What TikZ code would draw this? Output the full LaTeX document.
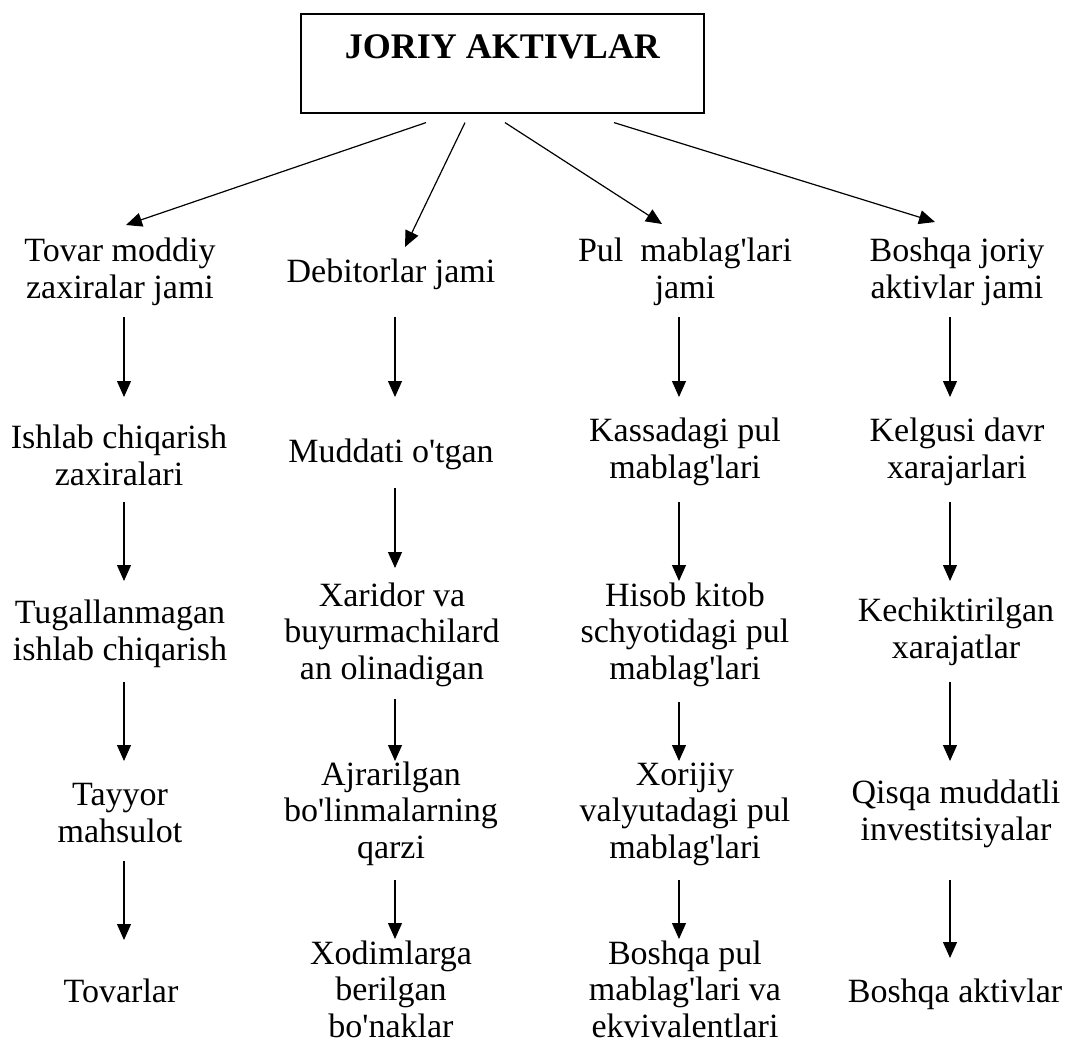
\documentclass[tikz,border=0pt]{standalone}
\usepackage{fontspec}
\setmainfont{Liberation Serif}[Ligatures=TeXOff]
\usetikzlibrary{arrows.meta,calc}
\tikzset{
  lbl/.style={inner sep=0pt, align=center, anchor=base, font=\fontsize{34}{36.5}\selectfont},
  rootbox/.style={draw, line width=1.2pt, inner sep=0pt, anchor=base, minimum width=403pt,
    text height=45pt, text depth=54pt, font=\fontsize{36}{40}\selectfont\bfseries},
  arr/.style={line width=1.2pt, -{Triangle[length=16pt,width=14pt]}}
}
\begin{document}
\begin{tikzpicture}[x=1pt,y=1pt]
\useasboundingbox (0,0) rectangle (1090,-1041);
\node[rootbox] (root) at (502.5,-59) {JORIY AKTIVLAR};
% column axes
\coordinate (c1) at (124,0);
\coordinate (c2) at (395,0);
\coordinate (c3) at (679,0);
\coordinate (c4) at (950,0);
% nodes are placed by the baseline of their last line
% column 1
\node[lbl] (t11) at (120,-298) {Tovar moddiy\\zaxiralar jami};
\node[lbl] (t12) at (119,-485) {Ishlab chiqarish\\zaxiralari};
\node[lbl] (t13) at (120,-660) {Tugallanmagan\\ishlab chiqarish};
\node[lbl] (t14) at (120,-842) {Tayyor\\mahsulot};
\node[lbl] (t15) at (121,-1002) {Tovarlar};
% column 2
\node[lbl] (t21) at (391,-282) {Debitorlar jami};
\node[lbl] (t22) at (391,-462) {Muddati o'tgan};
\node[lbl] (t23) at (392,-679) {Xaridor va\\buyurmachilard\\an olinadigan};
\node[lbl] (t24) at (391,-858) {Ajrarilgan\\bo'linmalarning\\qarzi};
\node[lbl] (t25) at (391,-1037) {Xodimlarga\\berilgan\\bo'naklar};
% column 3
\node[lbl] (t31) at (685,-298) {Pul\ \ mablag'lari\\jami};
\node[lbl] (t32) at (685,-478) {Kassadagi pul\\mablag'lari};
\node[lbl] (t33) at (685,-679) {Hisob kitob\\schyotidagi pul\\mablag'lari};
\node[lbl] (t34) at (685,-858) {Xorijiy\\valyutadagi pul\\mablag'lari};
\node[lbl] (t35) at (685,-1037) {Boshqa pul\\mablag'lari va\\ekvivalentlari};
% column 4
\node[lbl] (t41) at (957,-298) {Boshqa joriy\\aktivlar jami};
\node[lbl] (t42) at (957,-478) {Kelgusi davr\\xarajarlari};
\node[lbl] (t43) at (956,-658) {Kechiktirilgan\\xarajatlar};
\node[lbl] (t44) at (956,-840) {Qisqa muddatli\\investitsiyalar};
\node[lbl] (t45) at (955,-1002) {Boshqa aktivlar};
% top arrows
\draw[arr] ($(root.south)+(-76.5,-9)$) -- ($(t11.base)+(6,73)$);
\draw[arr] ($(root.south)+(-37.5,-9)$) -- ($(t21.base)+(14,35)$);
\draw[arr] ($(root.south)+(2.5,-9)$) -- ($(t31.base)+(-23,74)$);
\draw[arr] ($(root.south)+(111.5,-9)$) -- ($(t41.base)+(-22,76)$);
% column 1 arrows
\draw[arr] ($(t11.base -| c1)+(0,-19)$) -- ($(t12.base -| c1)+(0,88)$);
\draw[arr] ($(t12.base -| c1)+(0,-17)$) -- ($(t13.base -| c1)+(0,79)$);
\draw[arr] ($(t13.base -| c1)+(0,-22)$) -- ($(t14.base -| c1)+(0,81)$);
\draw[arr] ($(t14.base -| c1)+(0,-19)$) -- ($(t15.base -| c1)+(0,62)$);
% column 2 arrows
\draw[arr] ($(t21.base -| c2)+(0,-35)$) -- ($(t22.base -| c2)+(0,65)$);
\draw[arr] ($(t22.base -| c2)+(0,-26)$) -- ($(t23.base -| c2)+(0,111)$);
\draw[arr] ($(t23.base -| c2)+(0,-20)$) -- ($(t24.base -| c2)+(0,97)$);
\draw[arr] ($(t24.base -| c2)+(0,-22)$) -- ($(t25.base -| c2)+(0,98)$);
% column 3 arrows
\draw[arr] ($(t31.base -| c3)+(0,-19)$) -- ($(t32.base -| c3)+(0,81)$);
\draw[arr] ($(t32.base -| c3)+(0,-24)$) -- ($(t33.base -| c3)+(0,98)$);
\draw[arr] ($(t33.base -| c3)+(0,-23)$) -- ($(t34.base -| c3)+(0,97)$);
\draw[arr] ($(t34.base -| c3)+(0,-22)$) -- ($(t35.base -| c3)+(0,98)$);
% column 4 arrows
\draw[arr] ($(t41.base -| c4)+(0,-19)$) -- ($(t42.base -| c4)+(0,81)$);
\draw[arr] ($(t42.base -| c4)+(0,-24)$) -- ($(t43.base -| c4)+(0,77)$);
\draw[arr] ($(t43.base -| c4)+(0,-24)$) -- ($(t44.base -| c4)+(0,79)$);
\draw[arr] ($(t44.base -| c4)+(0,-40)$) -- ($(t45.base -| c4)+(0,44)$);
\end{tikzpicture}
\end{document}
